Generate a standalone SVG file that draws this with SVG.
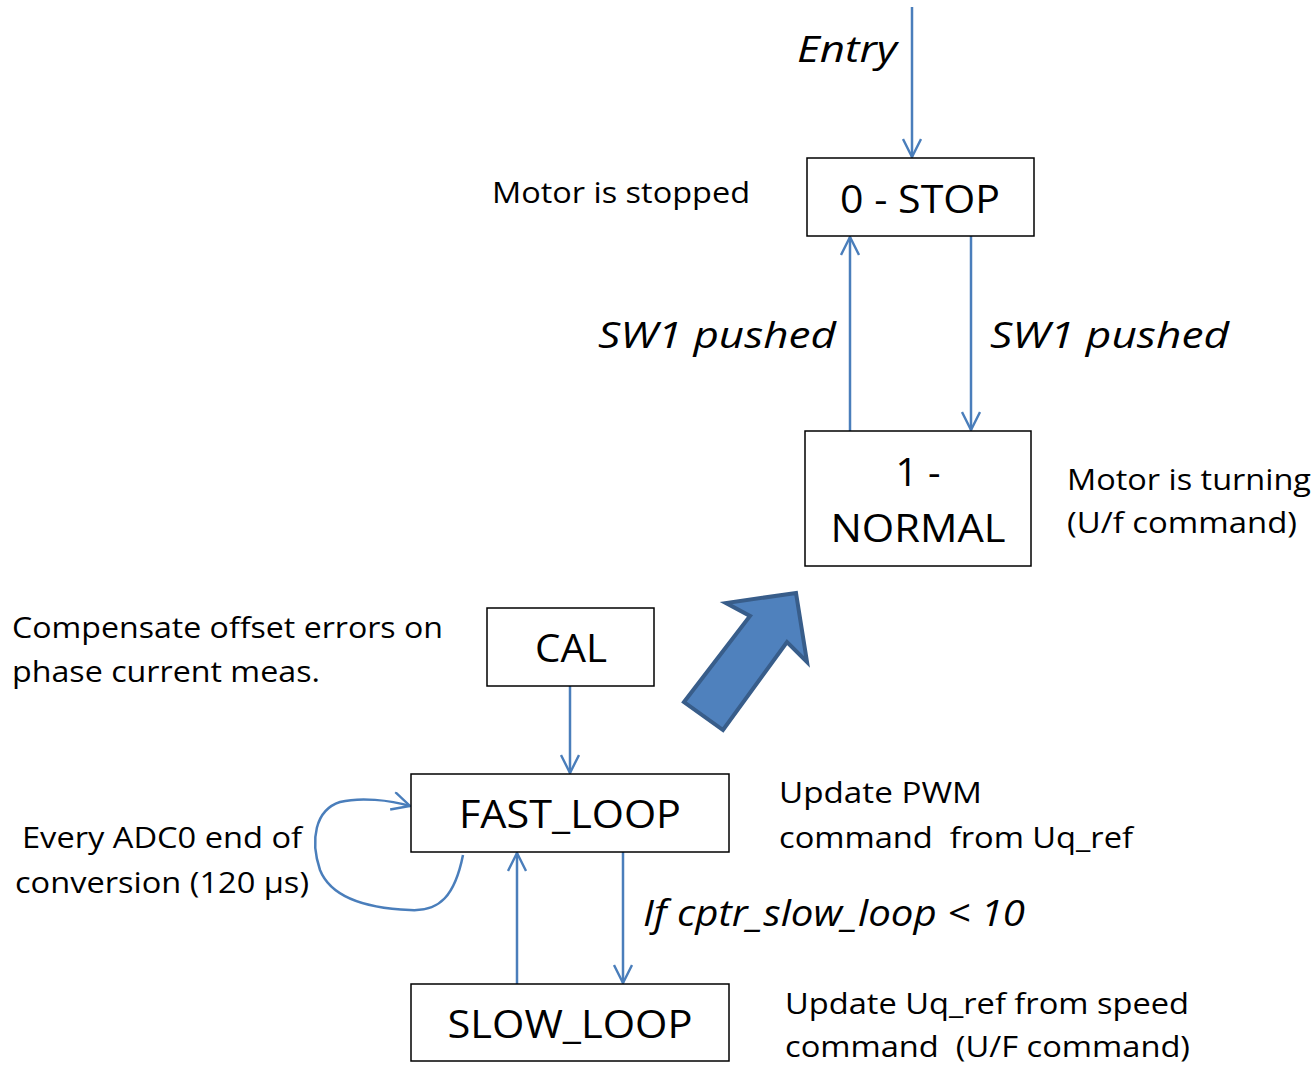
<svg xmlns="http://www.w3.org/2000/svg" width="1315" height="1066" viewBox="0 0 1315 1066">
<defs>
<marker id="arr" viewBox="0 0 20 20" refX="19" refY="10" markerWidth="20" markerHeight="20" markerUnits="userSpaceOnUse" orient="auto">
<path d="M1,1 L19,10 L1,19" fill="none" stroke="#4A7EBB" stroke-width="2.4"/>
</marker>
<style>
.box{fill:#fff;stroke:#000;stroke-width:1.5}
.conn{fill:none;stroke:#4A7EBB;stroke-width:2.5;marker-end:url(#arr)}
.t{font-family:"Open Sans","Liberation Sans",sans-serif;fill:#000}
.n{font-size:39px;text-anchor:middle}
.l{font-size:30px}
.i{font-size:37px;font-style:italic}
</style>
</defs>
<rect width="1315" height="1066" fill="#fff"/>
<g id="connectors">
<path class="conn" d="M912,7 L912,157"/>
<path class="conn" d="M971,236 L971,430"/>
<path class="conn" d="M850,431 L850,237"/>
<path class="conn" d="M570,686 L570,773"/>
<path class="conn" d="M623,852 L623,983"/>
<path class="conn" d="M517,984 L517,853"/>
<path class="conn" d="M463,855 C455,895 440,912 410,910 C360,908 330,895 320,870 C310,840 315,810 340,802 C360,797 390,800 410,806"/>
<polygon id="bigarrow" points="684,702 750,616 726,603 796,593 807,662 787,642 723,730" fill="#4F81BD" stroke="#385D8A" stroke-width="4" stroke-linejoin="miter"/>
</g>
<g id="stop"><rect class="box" x="807" y="158" width="227" height="78"/><text class="t n" x="920" y="213" textLength="160" lengthAdjust="spacingAndGlyphs">0 - STOP</text></g>
<g id="normal"><rect class="box" x="805" y="431" width="226" height="135"/><text class="t n" x="918" y="486">1 -</text><text class="t n" x="918" y="542" textLength="175" lengthAdjust="spacingAndGlyphs">NORMAL</text></g>
<g id="cal"><rect class="box" x="487" y="608" width="167" height="78"/><text class="t n" x="571" y="662" textLength="72" lengthAdjust="spacingAndGlyphs">CAL</text></g>
<g id="fast"><rect class="box" x="411" y="774" width="318" height="78"/><text class="t n" x="570" y="828" textLength="222" lengthAdjust="spacingAndGlyphs">FAST_LOOP</text></g>
<g id="slow"><rect class="box" x="411" y="984" width="318" height="77"/><text class="t n" x="570" y="1038" textLength="245" lengthAdjust="spacingAndGlyphs">SLOW_LOOP</text></g>
<g id="labels">
<text class="t i" x="797" y="62" textLength="100" lengthAdjust="spacingAndGlyphs">Entry</text>
<text class="t l" x="492" y="203" textLength="258" lengthAdjust="spacingAndGlyphs">Motor is stopped</text>
<text class="t i" x="598" y="348" textLength="238" lengthAdjust="spacingAndGlyphs">SW1 pushed</text>
<text class="t i" x="990" y="348" textLength="239" lengthAdjust="spacingAndGlyphs">SW1 pushed</text>
<text class="t l" x="1067" y="490" textLength="244" lengthAdjust="spacingAndGlyphs">Motor is turning</text>
<text class="t l" x="1067" y="533" textLength="230" lengthAdjust="spacingAndGlyphs">(U/f command)</text>
<text class="t l" x="12" y="638" textLength="431" lengthAdjust="spacingAndGlyphs">Compensate offset errors on</text>
<text class="t l" x="12" y="682" textLength="308" lengthAdjust="spacingAndGlyphs">phase current meas.</text>
<text class="t l" x="779" y="803" textLength="203" lengthAdjust="spacingAndGlyphs">Update PWM</text>
<text class="t l" x="779" y="848" textLength="354" lengthAdjust="spacingAndGlyphs" xml:space="preserve">command  from Uq_ref</text>
<text class="t l" x="22" y="848" textLength="280" lengthAdjust="spacingAndGlyphs">Every ADC0 end of</text>
<text class="t l" x="15" y="893" textLength="294" lengthAdjust="spacingAndGlyphs">conversion (120 µs)</text>
<text class="t i" x="643" y="926" font-size="33" textLength="382" lengthAdjust="spacingAndGlyphs">If cptr_slow_loop &lt; 10</text>
<text class="t l" x="785" y="1014" textLength="404" lengthAdjust="spacingAndGlyphs">Update Uq_ref from speed</text>
<text class="t l" x="785" y="1057" textLength="405" lengthAdjust="spacingAndGlyphs" xml:space="preserve">command  (U/F command)</text>
</g>
</svg>
